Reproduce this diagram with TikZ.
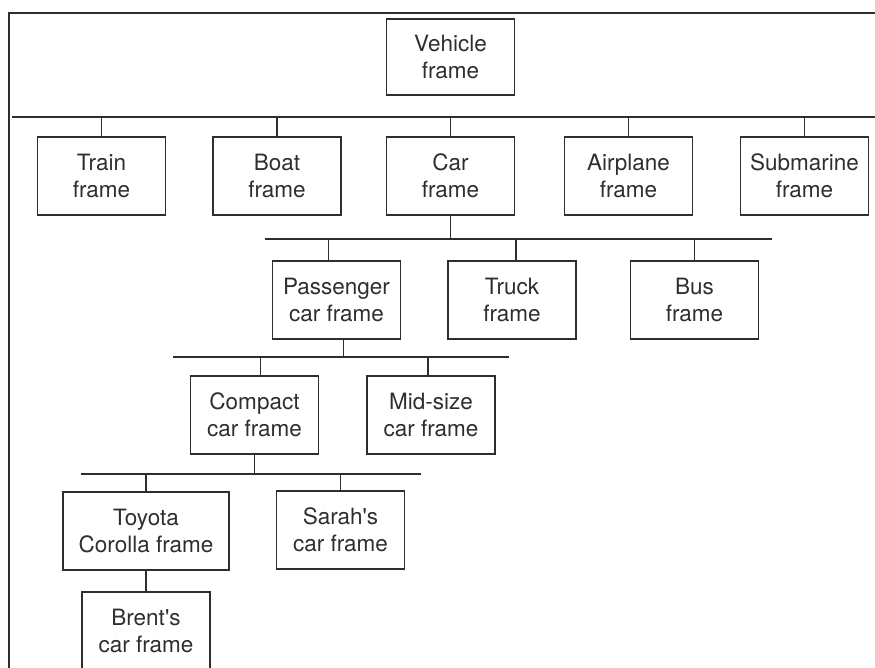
\documentclass[tikz,border=0pt]{standalone}
\usepackage{fontspec}
\setmainfont{TeX Gyre Heros}
\usepackage{tikz}
\usetikzlibrary{positioning}
\definecolor{inkgray}{HTML}{2E2E2E}

\tikzset{
  frm/.style={draw=inkgray,line width=1.9pt,align=center,inner sep=0pt,
    minimum width=128pt,minimum height=78pt,text=inkgray,
    font=\fontsize{22.5}{27}\selectfont},
  lnk/.style={draw=inkgray,line width=1.9pt}
}

\begin{document}
\begin{tikzpicture}[x=1pt,y=-1pt]
\useasboundingbox (0,0) rectangle (875,668);

%outer frame (left and top edge only)
\draw[lnk] (875,13) -- (9,13) -- (9,670);

%level 0
\node[frm,minimum height=76pt] (vehicle) at (450.5,57) {Vehicle\\frame};

%level 1
\coordinate (b1l) at (12,117);
\coordinate (b1r) at (876,117);
\draw[lnk] (b1l) -- (b1r);
\node[frm] (train) at (101.5,176) {Train\\frame};
\node[frm] (boat) at (277,176) {Boat\\frame};
\node[frm] (car) at (450.5,176) {Car\\frame};
\node[frm] (plane) at (628.5,176) {Airplane\\frame};
\node[frm] (sub) at (804.5,176) {Submarine\\frame};
\foreach \n in {train,boat,car,plane,sub}
  \draw[lnk] (\n.north) -- (\n.north |- b1l);

%level 2
\coordinate (b2l) at (265,239);
\coordinate (b2r) at (772,239);
\draw[lnk] (b2l) -- (b2r);
\draw[lnk] (car.south) -- (car.south |- b2l);
\node[frm] (pass) at (336.5,300) {Passenger\\car frame};
\node[frm] (truck) at (512,300) {Truck\\frame};
\node[frm] (bus) at (694.5,300) {Bus\\frame};
\draw[lnk] ([xshift=-8pt]pass.north) -- ([xshift=-8pt]pass.north |- b2l);
\draw[lnk] ([xshift=4pt]truck.north) -- ([xshift=4pt]truck.north |- b2l);
\draw[lnk] (bus.north) -- (bus.north |- b2l);

%level 3
\coordinate (b3l) at (173,357);
\coordinate (b3r) at (509,357);
\draw[lnk] (b3l) -- (b3r);
\draw[lnk] ([xshift=7pt]pass.south) -- ([xshift=7pt]pass.south |- b3l);
\node[frm] (compact) at (254.5,415) {Compact\\car frame};
\node[frm] (midsize) at (431,415) {Mid-size\\car frame};
\draw[lnk] ([xshift=6pt]compact.north) -- ([xshift=6pt]compact.north |- b3l);
\draw[lnk] ([xshift=-3pt]midsize.north) -- ([xshift=-3pt]midsize.north |- b3l);

%level 4
\coordinate (b4l) at (81,474);
\coordinate (b4r) at (421,474);
\draw[lnk] (b4l) -- (b4r);
\draw[lnk] (compact.south) -- (compact.south |- b4l);
\node[frm,minimum width=166pt] (toyota) at (146,531) {Toyota\\Corolla frame};
\node[frm] (sarah) at (340.5,530) {Sarah\textquotesingle s\\car frame};
\draw[lnk] (toyota.north) -- (toyota.north |- b4l);
\draw[lnk] (sarah.north) -- (sarah.north |- b4l);

%level 5
\node[frm] (brent) at (146,631) {Brent\textquotesingle s\\car frame};
\draw[lnk] (toyota.south) -- (brent.north);

\end{tikzpicture}
\end{document}
